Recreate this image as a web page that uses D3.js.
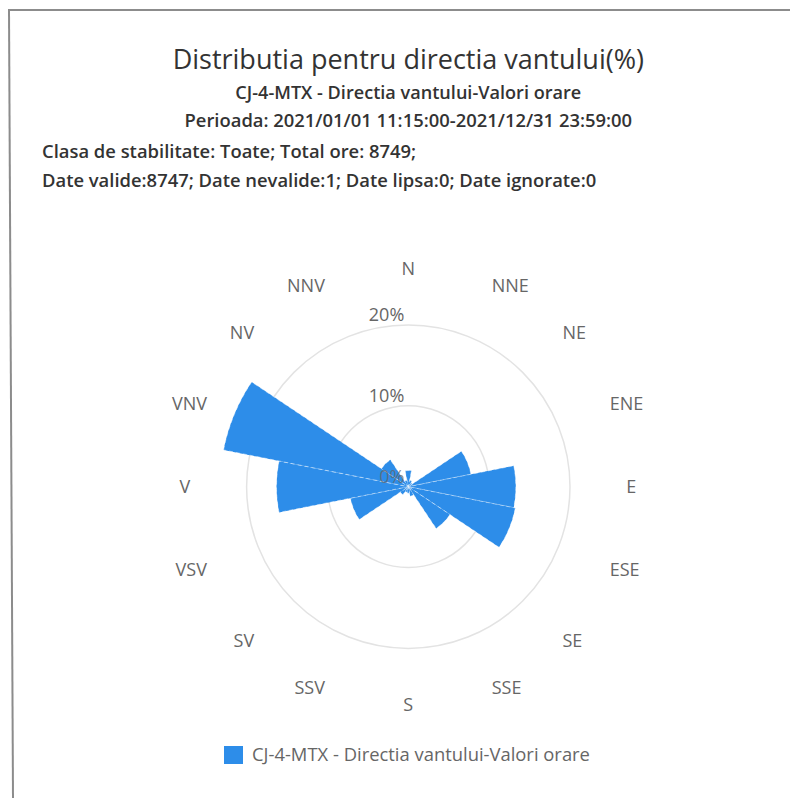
<!DOCTYPE html>
<html>
<head>
<meta charset="UTF-8">
<script src="https://d3js.org/d3.v7.min.js"></script>
<style>
  body { margin: 0; background: #fff; }
  text { font-family: "Open Sans", "Noto Sans", sans-serif; }
</style>
</head>
<body>
<svg id="chart"></svg>
<script>
// directii (N sus, in sensul acelor de ceas)
const directions = ["N", "NNE", "NE", "ENE", "E", "ESE", "SE", "SSE",
                    "S", "SSV", "SV", "VSV", "V", "VNV", "NV", "NNV"];
// frecventa (%) pe fiecare directie
const frequency = [2.0, 0.8, 0.6, 7.9, 13.3, 13.5, 6.2, 1.2,
                   0.8, 0.7, 1.2, 7.3, 16.3, 23.3, 4.0, 0.8];
const radialTicks = [0, 10, 20];

const title = "Distributia pentru directia vantului(%)";
const subtitleLines = [
  "CJ-4-MTX - Directia vantului-Valori orare",
  "Perioada: 2021/01/01 11:15:00-2021/12/31 23:59:00"
];
const infoLines = [
  "Clasa de stabilitate: Toate; Total ore: 8749;",
  "Date valide:8747; Date nevalide:1; Date lipsa:0; Date ignorate:0"
];
const seriesName = "CJ-4-MTX - Directia vantului-Valori orare";

const width = 790, height = 798;
const cx = 408.3, cy = 486.7;
const barColor = "#2d8de9";
const fontSize = 18;

const svg = d3.select("#chart")
  .attr("width", width)
  .attr("height", height);

svg.append("rect").attr("width", width).attr("height", height).attr("fill", "#fff");

// chenar
svg.append("line")
  .attr("x1", 8).attr("y1", 10).attr("x2", width).attr("y2", 10)
  .attr("stroke", "#8c8c8c").attr("stroke-width", 2);
svg.append("line")
  .attr("x1", 9).attr("y1", 10).attr("x2", 13).attr("y2", height)
  .attr("stroke", "#8c8c8c").attr("stroke-width", 2);

// titluri
svg.append("text")
  .attr("x", cx).attr("y", 69)
  .attr("text-anchor", "middle")
  .attr("font-size", 27)
  .attr("font-weight", 500)
  .attr("fill", "#333")
  .text(title);

svg.selectAll(".subtitle")
  .data(subtitleLines)
  .join("text")
    .attr("class", "subtitle")
    .attr("x", cx)
    .attr("y", (d, i) => 99 + i * 28)
    .attr("text-anchor", "middle")
    .attr("font-size", (d, i) => i === 0 ? 18.1 : 18.4)
    .attr("font-weight", 600)
    .attr("fill", "#333")
    .text(d => d);

svg.selectAll(".info")
  .data(infoLines)
  .join("text")
    .attr("class", "info")
    .attr("x", 42)
    .attr("y", (d, i) => 158 + i * 29)
    .attr("font-size", 18.4)
    .attr("font-weight", 600)
    .attr("fill", "#333")
    .text(d => d);

// scala radiala
const r = d3.scaleLinear()
  .domain([0, 20])
  .range([0, 161.7]);

const step = 2 * Math.PI / directions.length;

const g = svg.append("g").attr("transform", `translate(${cx},${cy})`);

g.selectAll(".ring")
  .data(radialTicks.filter(t => t > 0))
  .join("circle")
    .attr("class", "ring")
    .attr("r", d => r(d))
    .attr("fill", "none")
    .attr("stroke", "#e3e3e3")
    .attr("stroke-width", 1.5);

const arc = d3.arc()
  .innerRadius(0)
  .outerRadius(d => r(d.value))
  .startAngle(d => d.i * step - step / 2)
  .endAngle(d => d.i * step + step / 2);

g.selectAll(".bar")
  .data(frequency.map((v, i) => ({value: v, i: i})))
  .join("path")
    .attr("class", "bar")
    .attr("d", arc)
    .attr("fill", barColor)
    .attr("stroke", "#fff")
    .attr("stroke-opacity", 0.45)
    .attr("stroke-width", 1)
    .attr("stroke-dasharray", "4 3");

// etichete directii
const labelR = 218;
g.selectAll(".dir")
  .data(directions)
  .join("text")
    .attr("class", "dir")
    .attr("x", (d, i) => labelR * Math.sin(i * step))
    .attr("y", (d, i) => -labelR * Math.cos(i * step))
    .attr("dy", "0.35em")
    .attr("text-anchor", (d, i) => {
      const s = Math.sin(i * step);
      return s > 0.1 ? "start" : s < -0.1 ? "end" : "middle";
    })
    .attr("font-size", fontSize)
    .attr("fill", "#666")
    .text(d => d);

// etichete axa radiala
g.selectAll(".tick")
  .data(radialTicks)
  .join("text")
    .attr("class", "tick")
    .attr("x", -4)
    .attr("y", d => -r(d) - 4)
    .attr("text-anchor", "end")
    .attr("font-size", fontSize)
    .attr("fill", "#666")
    .attr("fill-opacity", d => d === 0 ? 0.75 : 1)
    .text(d => d + "%");

// legenda
const legend = svg.append("g").attr("transform", "translate(224,746)");
legend.append("rect")
  .attr("width", 19).attr("height", 18)
  .attr("fill", barColor);
legend.append("text")
  .attr("x", 28).attr("y", 9)
  .attr("dy", "0.35em")
  .attr("font-size", 18.4)
  .attr("fill", "#666")
  .text(seriesName);
</script>
</body>
</html>
